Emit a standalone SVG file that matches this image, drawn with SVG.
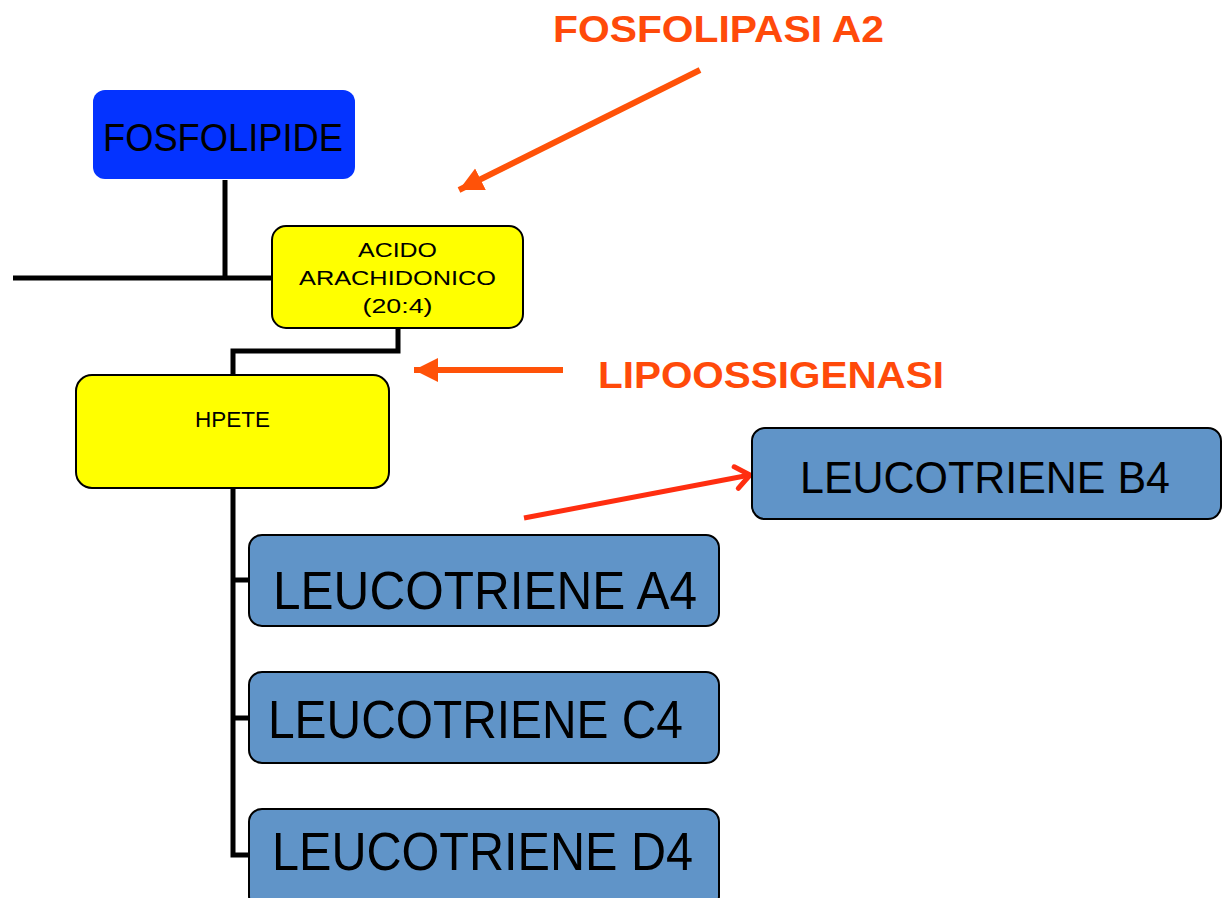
<svg xmlns="http://www.w3.org/2000/svg" width="1222" height="898" viewBox="0 0 1222 898">
<style>
.lbl{font-family:"Liberation Sans",Arial,sans-serif;fill:#000}
.enz{font-family:"Liberation Sans",Arial,sans-serif;font-weight:bold;fill:#FF4A0A}
.yel{fill:#FFFF00;stroke:#000;stroke-width:2}
.blu{fill:#6094C8;stroke:#000;stroke-width:2}
.tree{fill:none;stroke:#000;stroke-width:5}
.orange{stroke:#FF5208;stroke-width:6;fill:none}
.red{stroke:#FF2E10;stroke-width:5;fill:none}
</style>
<defs>
<marker id="tri" markerUnits="userSpaceOnUse" markerWidth="26" markerHeight="26" refX="24" refY="12" orient="auto">
<path d="M0,0 L24,12 L0,24 Z" fill="#FF5208"/>
</marker>
<marker id="chev" markerUnits="userSpaceOnUse" markerWidth="24" markerHeight="30" refX="18" refY="15" orient="auto">
<path d="M4,4 L18,15 L4,26" fill="none" stroke="#FF2E10" stroke-width="5" stroke-linecap="round" stroke-linejoin="round"/>
</marker>
</defs>
<g id="connectors">
<path class="tree" d="M225,180 V278 M13,278 H272"/>
<path class="tree" d="M398,328 V351 H233 V375"/>
<path class="tree" d="M233,488 V855 H250 M233,580 H250 M233,718 H250"/>
<line class="orange" x1="700" y1="70" x2="459" y2="190" marker-end="url(#tri)"/>
<line class="orange" x1="563" y1="370" x2="414" y2="370" marker-end="url(#tri)"/>
<line class="red" x1="524" y1="518" x2="750" y2="475" marker-end="url(#chev)"/>
</g>
<g id="label-fosfolipasi"><text class="enz" x="553" y="42" font-size="37" textLength="331" lengthAdjust="spacingAndGlyphs">FOSFOLIPASI A2</text></g>
<g id="label-lipoossigenasi"><text class="enz" x="598" y="388" font-size="37" textLength="346" lengthAdjust="spacingAndGlyphs">LIPOOSSIGENASI</text></g>
<g id="node-fosfolipide">
<rect x="93" y="90" width="262" height="89" rx="12" fill="#0433FF"/>
<text class="lbl" x="103" y="151" font-size="39" textLength="240" lengthAdjust="spacingAndGlyphs">FOSFOLIPIDE</text>
</g>
<g id="node-acido">
<rect class="yel" x="272" y="226" width="251" height="102" rx="14"/>
<text class="lbl" x="397.5" y="257" font-size="21" text-anchor="middle" textLength="79" lengthAdjust="spacingAndGlyphs">ACIDO</text>
<text class="lbl" x="397.5" y="285" font-size="21" text-anchor="middle" textLength="197" lengthAdjust="spacingAndGlyphs">ARACHIDONICO</text>
<text class="lbl" x="397.5" y="313" font-size="21" text-anchor="middle" textLength="70" lengthAdjust="spacingAndGlyphs">(20:4)</text>
</g>
<g id="node-hpete">
<rect class="yel" x="76" y="375" width="313" height="113" rx="16"/>
<text class="lbl" x="232.5" y="427" font-size="22" text-anchor="middle" textLength="75" lengthAdjust="spacingAndGlyphs">HPETE</text>
</g>
<g id="node-b4">
<rect class="blu" x="752" y="428" width="469" height="91" rx="13"/>
<text class="lbl" x="800" y="493" font-size="45" textLength="370" lengthAdjust="spacingAndGlyphs">LEUCOTRIENE B4</text>
</g>
<g id="node-a4">
<rect class="blu" x="249" y="535" width="470" height="91" rx="13"/>
<text class="lbl" x="273" y="609" font-size="54" textLength="424" lengthAdjust="spacingAndGlyphs">LEUCOTRIENE A4</text>
</g>
<g id="node-c4">
<rect class="blu" x="249" y="672" width="470" height="91" rx="13"/>
<text class="lbl" x="268" y="738" font-size="54" textLength="415" lengthAdjust="spacingAndGlyphs">LEUCOTRIENE C4</text>
</g>
<g id="node-d4">
<rect class="blu" x="249" y="809" width="470" height="100" rx="13"/>
<text class="lbl" x="272" y="870" font-size="54" textLength="421" lengthAdjust="spacingAndGlyphs">LEUCOTRIENE D4</text>
</g>
</svg>
